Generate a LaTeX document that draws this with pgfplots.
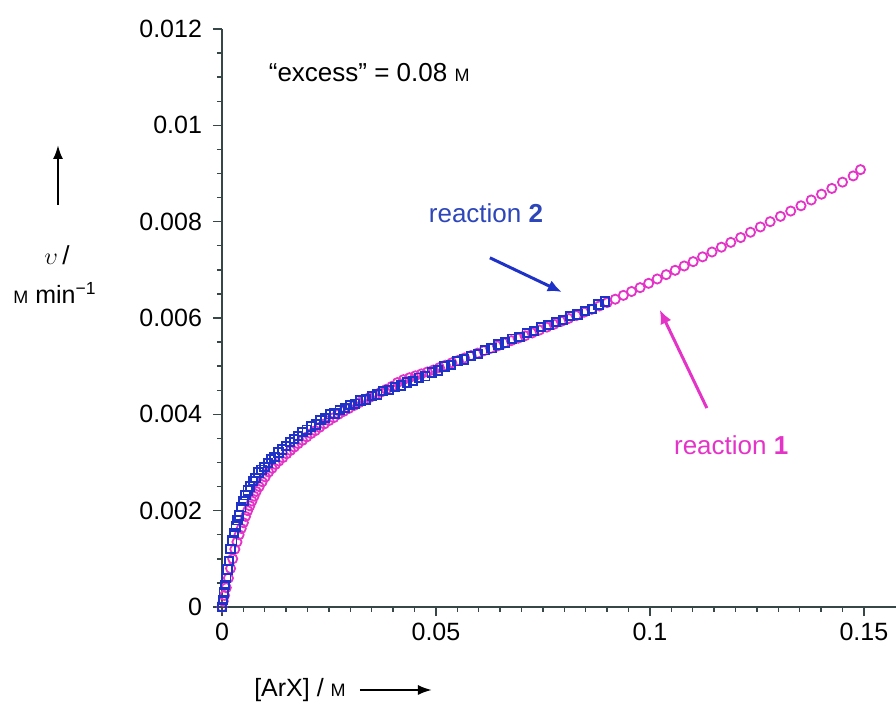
\documentclass[border=0pt]{standalone}
\usepackage{fontspec}
\setmainfont{Liberation Sans}
\usepackage{pgfplots}
\pgfplotsset{compat=1.18}
\usetikzlibrary{arrows.meta}
\definecolor{rmag}{RGB}{228,52,200}
\definecolor{rblue}{RGB}{30,50,200}
\definecolor{tblue}{RGB}{45,70,185}
\definecolor{axgray}{RGB}{55,70,70}
\newcommand{\mol}{{\fontsize{9}{10}\selectfont M}}
\begin{document}
\begin{tikzpicture}[x=1pt,y=1pt]
\begin{axis}[
  at={(0,0)}, anchor=south west,
  width=337pt, height=289pt, scale only axis,
  xmin=0, xmax=0.1575, ymin=0, ymax=0.012,
  axis x line=bottom, axis y line=left,
  axis line style={-, axgray, line width=0.8pt},
  xtick={0,0.05,0.1,0.15},
  ytick={0,0.002,0.004,0.006,0.008,0.01,0.012},
  minor x tick num=9, minor y tick num=3,
  tick align=outside, major tick length=4.5pt, minor tick length=2.5pt,
  tick style={axgray, line width=0.7pt},
  scaled ticks=false,
  xticklabel style={/pgf/number format/.cd, fixed, precision=3, assume math mode=true},
  yticklabel style={xshift=-2pt, /pgf/number format/.cd, fixed, precision=3, assume math mode=true},
  ticklabel style={font=\fontsize{12.5}{14}\selectfont},
  clip=false,
]
\addplot[only marks, mark=o, rmag, mark size=2.3pt, mark options={line width=0.9pt}] coordinates {
(0,0) (0.0003,0.00012) (0.0006,0.00024) (0.001,0.0004) (0.0015,0.0006) (0.002,0.0008)
(0.0025,0.001) (0.003,0.0012) (0.0035,0.00135) (0.004,0.0015) (0.0045,0.00163) (0.005,0.00175)
(0.0055,0.00188) (0.006,0.002) (0.0065,0.0021) (0.007,0.0022) (0.0075,0.0023) (0.008,0.0024)
(0.0087,0.0025) (0.0094,0.0026) (0.0101,0.0027) (0.0109,0.0028) (0.0117,0.00288) (0.0125,0.00296)
(0.0133,0.00303) (0.0142,0.0031) (0.0151,0.00318) (0.016,0.00325) (0.0169,0.00332) (0.0178,0.00339)
(0.0188,0.00346) (0.0198,0.00353) (0.0208,0.0036) (0.0218,0.00366) (0.0228,0.00373) (0.0239,0.0038)
(0.025,0.00387) (0.0261,0.00393) (0.0272,0.004) (0.0284,0.00406) (0.0296,0.00412) (0.0308,0.00418)
(0.032,0.00424) (0.0332,0.0043) (0.0345,0.00435) (0.0358,0.0044) (0.0371,0.00446) (0.0384,0.00452)
(0.0397,0.00458) (0.041,0.00466) (0.0424,0.00472) (0.0438,0.00476) (0.0452,0.0048) (0.0466,0.00484)
(0.048,0.00488) (0.0494,0.00492) (0.0508,0.00497) (0.0522,0.00502) (0.0537,0.00507) (0.0552,0.00512)
(0.0567,0.00517) (0.0582,0.00522) (0.0597,0.00527) (0.0612,0.00532) (0.0628,0.00537) (0.0644,0.00542)
(0.066,0.00548) (0.0676,0.00553) (0.0692,0.00558) (0.0708,0.00563) (0.0725,0.00569) (0.0742,0.00575)
(0.0759,0.00581) (0.0776,0.00587) (0.0793,0.00593) (0.081,0.00599) (0.0828,0.00605) (0.0846,0.00612)
(0.0864,0.00618) (0.0882,0.00625) (0.09,0.00632) (0.0919,0.00639) (0.0938,0.00647) (0.0957,0.00655)
(0.0977,0.00663) (0.0997,0.00672) (0.1017,0.00681) (0.1038,0.0069) (0.1059,0.00699) (0.108,0.00708)
(0.1101,0.00717) (0.1123,0.00727) (0.1145,0.00737) (0.1167,0.00747) (0.1189,0.00757) (0.1212,0.00767)
(0.1235,0.00778) (0.1258,0.00789) (0.1281,0.008) (0.1305,0.00811) (0.1329,0.00822) (0.1353,0.00833)
(0.1377,0.00845) (0.1401,0.00857) (0.1425,0.00869) (0.145,0.00882) (0.1475,0.00895) (0.1492,0.00908)
};
\addplot[only marks, mark=square, rblue, mark size=2.1pt, mark options={line width=0.95pt}] coordinates {
(0,0) (0.0002,0.00015) (0.0004,0.0003) (0.0007,0.00045) (0.001,0.0006) (0.0013,0.00078)
(0.0016,0.00095) (0.002,0.0012) (0.0024,0.00138) (0.0028,0.00153) (0.0032,0.00167) (0.0036,0.0018)
(0.004,0.0019) (0.0045,0.00207) (0.005,0.0022) (0.0055,0.00232) (0.006,0.00242) (0.0066,0.0025)
(0.0072,0.00262) (0.0078,0.00268) (0.0085,0.00279) (0.0092,0.00285) (0.0099,0.00291) (0.0107,0.00299)
(0.0115,0.00307) (0.0123,0.00311) (0.0132,0.00321) (0.0141,0.00327) (0.015,0.00334) (0.0159,0.00343)
(0.0168,0.00349) (0.0178,0.00355) (0.0188,0.00363) (0.0198,0.00368) (0.0208,0.00375) (0.0219,0.00379)
(0.023,0.00388) (0.0241,0.00392) (0.0252,0.004) (0.0263,0.00402) (0.0275,0.00409) (0.0287,0.00413)
(0.0299,0.00419) (0.0311,0.00422) (0.0324,0.00429) (0.0337,0.00431) (0.035,0.00438) (0.0363,0.00441)
(0.0376,0.00448) (0.039,0.00451) (0.0404,0.00457) (0.0418,0.0046) (0.0432,0.00466) (0.0446,0.00469)
(0.046,0.00476) (0.0475,0.00479) (0.049,0.00487) (0.0505,0.00491) (0.052,0.00499) (0.0535,0.00502)
(0.055,0.0051) (0.0566,0.00514) (0.0582,0.00521) (0.0598,0.00525) (0.0614,0.00533) (0.063,0.00537)
(0.0646,0.00545) (0.0662,0.00549) (0.0678,0.00557) (0.0695,0.00561) (0.0712,0.00569) (0.0729,0.00573)
(0.0746,0.00581) (0.0763,0.00585) (0.078,0.00592) (0.0797,0.00596) (0.0814,0.00604) (0.0831,0.00607)
(0.0848,0.00615) (0.0865,0.00619) (0.088,0.00628) (0.0895,0.00634)
};
\node[anchor=west, font=\fontsize{13}{15}\selectfont] at (axis cs:0.0093,0.0111) {“excess” = 0.08 \mol};
\node[anchor=west, text=tblue, font=\fontsize{13}{15}\selectfont] at (axis cs:0.0467,0.00818) {reaction \textbf{2}};
\node[anchor=west, text=rmag, font=\fontsize{13}{15}\selectfont] at (axis cs:0.104,0.00336) {reaction \textbf{1}};
\draw[-{Latex[length=7pt,width=6pt]}, rblue, line width=1.5pt] (axis cs:0.0626,0.00725) -- (axis cs:0.0794,0.00654);
\draw[-{Latex[length=7pt,width=6pt]}, rmag, line width=1.5pt] (axis cs:0.1133,0.00413) -- (axis cs:0.1023,0.00617);
\end{axis}
% y label
\draw[-{Latex[length=7pt,width=5pt]}, line width=1.1pt] (-82,201) -- (-82,231);
\node[font=\fontsize{13}{15}\selectfont] at (-82.5,176) {$\upsilon$\,/};
\node[font=\fontsize{12.5}{15}\selectfont] at (-83.5,157) {\mol\ min\textsuperscript{−1}};
% x label
\node[font=\fontsize{12.5}{15}\selectfont] at (39,-41.5) {[ArX] / \mol};
\draw[-{Latex[length=7pt,width=5pt]}, line width=1.1pt] (69,-41.5) -- (105,-41.5);
\pgfresetboundingbox
\path[use as bounding box] (-111,-50) rectangle (337,303.5);
\end{tikzpicture}
\end{document}
